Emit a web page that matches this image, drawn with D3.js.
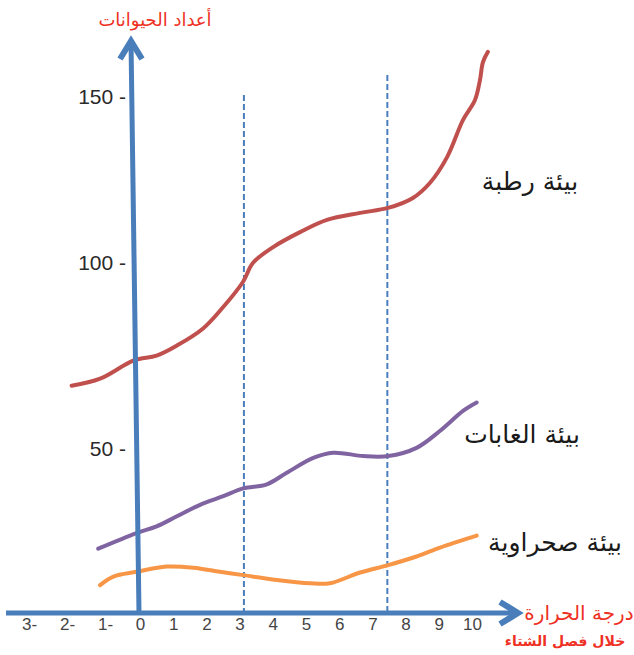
<!DOCTYPE html>
<html>
<head>
<meta charset="utf-8">
<script src="https://cdn.jsdelivr.net/npm/d3@7"></script>
<style>
  html, body { margin: 0; padding: 0; background: #ffffff; }
  svg { display: block; }
</style>
</head>
<body>
<svg id="chart" width="634" height="655"></svg>
<script>
// Temperature ticks (winter season) and animal-count ticks
const xTicks = [-3, -2, -1, 0, 1, 2, 3, 4, 5, 6, 7, 8, 9, 10];
const yTicks = [50, 100, 150];

// Series names
const seriesNames = ["بيئة رطبة", "بيئة الغابات", "بيئة صحراوية"];

// Humid environment
const humidX = [-1.8, -1.05, -0.16, 0.5, 1.11, 1.9, 2.5, 3.1, 3.4, 4.01, 4.82, 5.63, 6.63, 7.47, 8.22, 8.73, 9.25, 9.73, 10.09, 10.24, 10.33, 10.48];
const humidY = [67.0, 68.9, 73.8, 75.1, 77.8, 82.4, 88.1, 94.9, 100, 104.8, 109.3, 113.0, 115.1, 116.6, 119.6, 124.1, 131.9, 143.1, 149.1, 155.1, 160.5, 163.6];

// Forest environment
const forestX = [-1.1, -0.09, 0.5, 1.11, 1.81, 2.51, 3.11, 3.82, 4.42, 5.22, 5.82, 6.73, 7.48, 8.33, 9.04, 9.74, 10.14];
const forestY = [23.2, 27.4, 29.2, 31.9, 35.0, 37.3, 39.4, 40.5, 43.6, 47.6, 49.0, 48.1, 48.1, 50.3, 54.9, 60.3, 62.5];

// Desert environment
const desertX = [-1.05, -0.7, -0.09, 0.8, 1.61, 2.41, 3.11, 4.12, 5.12, 5.72, 6.63, 7.48, 8.33, 9.04, 10.14];
const desertY = [13.4, 15.7, 17.0, 18.4, 18.1, 17.0, 16.1, 14.8, 13.9, 13.9, 16.8, 18.8, 21.1, 23.5, 26.7];

// Temperature thresholds marked with dashed guides
const thresholdX = [3.13, 7.45];

const colors = ["#c0504d", "#8064a2", "#f79646"];
const axisBlue = "#4a7ebb";
const titleRed = "#ee3124";

const svg = d3.select("#chart");

const x = d3.scaleLinear().domain([-3, 0, 10]).range([26, 140, 472]);
const y = d3.scaleLinear().domain([50, 100, 150]).range([449, 263, 97]);

const axisY = 613;

// Dashed threshold guides
const guideTop = [95, 75];
svg.selectAll("line.guide")
  .data(thresholdX)
  .join("line")
  .attr("class", "guide")
  .attr("x1", d => x(d)).attr("x2", d => x(d))
  .attr("y1", (d, i) => guideTop[i]).attr("y2", axisY)
  .attr("stroke", axisBlue)
  .attr("stroke-width", 2)
  .attr("stroke-dasharray", "6,3");

// Series lines
const series = [
  { xs: humidX, ys: humidY },
  { xs: forestX, ys: forestY },
  { xs: desertX, ys: desertY }
];
const line = d3.line()
  .x(d => x(d[0]))
  .y(d => y(d[1]))
  .curve(d3.curveCatmullRom.alpha(0.5));

svg.selectAll("path.series")
  .data(series)
  .join("path")
  .attr("class", "series")
  .attr("d", s => line(s.xs.map((v, i) => [v, s.ys[i]])))
  .attr("fill", "none")
  .attr("stroke", (s, i) => colors[i])
  .attr("stroke-width", 4)
  .attr("stroke-linecap", "round")
  .attr("stroke-linejoin", "round");

// Vertical axis (animal count) with arrowhead
const yAxisTop = 39;
const yTopX = x(0) - 9, yBotX = x(0) - 1;
svg.append("line")
  .attr("x1", yTopX).attr("y1", yAxisTop + 2)
  .attr("x2", yBotX).attr("y2", axisY)
  .attr("stroke", axisBlue).attr("stroke-width", 5);
svg.append("polyline")
  .attr("points", `${yTopX - 11},${yAxisTop + 20} ${yTopX},${yAxisTop + 2} ${yTopX + 11},${yAxisTop + 20}`)
  .attr("fill", "none").attr("stroke", axisBlue).attr("stroke-width", 6)
  .attr("stroke-linejoin", "miter");

// Horizontal axis (temperature) with arrowhead
const xAxisLeft = 6, xAxisRight = 519;
svg.append("line")
  .attr("x1", xAxisLeft).attr("y1", axisY)
  .attr("x2", xAxisRight - 2).attr("y2", axisY)
  .attr("stroke", axisBlue).attr("stroke-width", 5);
svg.append("polyline")
  .attr("points", `${xAxisRight - 19},${axisY - 11} ${xAxisRight - 1},${axisY} ${xAxisRight - 19},${axisY + 11}`)
  .attr("fill", "none").attr("stroke", axisBlue).attr("stroke-width", 6)
  .attr("stroke-linejoin", "miter");

// X tick labels (negatives written with trailing minus)
const xAxis = d3.axisBottom(x)
  .tickValues(xTicks)
  .tickSize(0)
  .tickPadding(0)
  .tickFormat(d => d < 0 ? `${Math.abs(d)}-` : `${d}`);
const gx = svg.append("g")
  .attr("transform", `translate(0,${axisY + 5})`)
  .call(xAxis);
gx.select(".domain").remove();
gx.selectAll("text")
  .attr("dx", d => d < 0 ? 3 : 0)
  .attr("font-family", "'Liberation Sans Narrow', 'Liberation Sans', Arial, sans-serif")
  .attr("font-size", 17)
  .attr("fill", "#444");

// Y tick labels
svg.selectAll("text.ytick")
  .data(yTicks)
  .join("text")
  .attr("class", "ytick")
  .attr("x", 126)
  .attr("y", d => y(d))
  .attr("dy", "0.35em")
  .attr("text-anchor", "end")
  .attr("font-family", "'Liberation Sans', Arial, sans-serif")
  .attr("font-size", 21)
  .attr("fill", "#2a2a2a")
  .text(d => `${d} -`);

// Series labels
const labelPos = [[530, 190], [522, 443], [555, 551]];
svg.selectAll("text.series-label")
  .data(seriesNames)
  .join("text")
  .attr("class", "series-label")
  .attr("x", (d, i) => labelPos[i][0])
  .attr("y", (d, i) => labelPos[i][1])
  .attr("text-anchor", "middle")
  .attr("font-family", "'DejaVu Sans', sans-serif")
  .attr("font-size", 25)
  .attr("fill", "#1a1a1a")
  .text(d => d);

// Axis titles
svg.append("text")
  .attr("x", 155).attr("y", 26)
  .attr("text-anchor", "middle")
  .attr("font-family", "'DejaVu Sans', sans-serif")
  .attr("font-size", 18)
  .attr("fill", titleRed)
  .text("أعداد الحيوانات");

svg.append("text")
  .attr("x", 579).attr("y", 620)
  .attr("text-anchor", "middle")
  .attr("font-family", "'DejaVu Sans', sans-serif")
  .attr("font-size", 20)
  .attr("fill", titleRed)
  .text("درجة الحرارة");

svg.append("text")
  .attr("x", 565).attr("y", 646)
  .attr("text-anchor", "middle")
  .attr("font-family", "'DejaVu Sans', sans-serif")
  .attr("font-size", 14)
  .attr("font-weight", "bold")
  .attr("fill", titleRed)
  .text("خلال فصل الشتاء");
</script>
</body>
</html>
